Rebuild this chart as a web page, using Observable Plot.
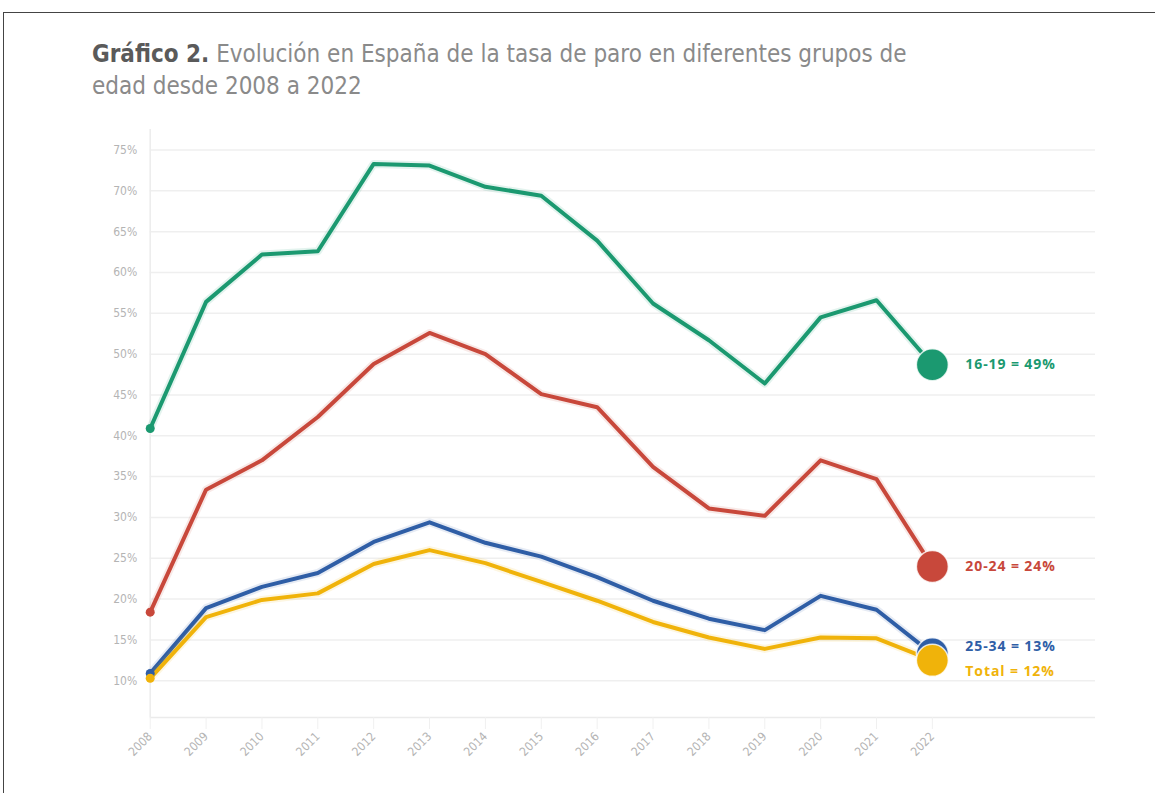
<!DOCTYPE html>
<html>
<head>
<meta charset="utf-8">
<script src="https://cdn.jsdelivr.net/npm/d3@7"></script>
<script src="https://cdn.jsdelivr.net/npm/@observablehq/plot@0.6"></script>
<style>
  html, body { margin: 0; padding: 0; background: #fff; }
  body { width: 1155px; height: 793px; position: relative; overflow: hidden; }
  #frame { position: absolute; left: 3px; top: 12px; width: 1160px; height: 800px; border-top: 1.5px solid #444; border-left: 1.5px solid #444; }
  #title { position: absolute; left: 92px; top: 38px; font-family: "Liberation Sans Narrow", "DejaVu Sans Condensed", "Roboto", sans-serif; font-size: 24px; line-height: 32px; color: #8a8a8a; width: 900px; font-weight: 300; }
  #title b { color: #5a5a5a; font-weight: 700; }
  #chart { position: absolute; left: 0; top: 110px; }
</style>
</head>
<body>
<div id="frame"></div>
<div id="title"><b>Gráfico 2.</b> Evolución en España de la tasa de paro en diferentes grupos de<br>edad desde 2008 a 2022</div>
<div id="chart"></div>
<script>
const years = [2008,2009,2010,2011,2012,2013,2014,2015,2016,2017,2018,2019,2020,2021,2022];
const g1619 = [40.9,56.4,62.2,62.6,73.3,73.1,70.5,69.4,63.9,56.2,51.7,46.4,54.5,56.6,48.7];
const g2024 = [18.4,33.4,37.0,42.3,48.8,52.6,50.0,45.1,43.5,36.2,31.1,30.2,37.0,34.7,24.0];
const g2534 = [10.9,18.9,21.5,23.2,27.0,29.4,26.9,25.2,22.7,19.8,17.6,16.2,20.4,18.7,13.3];
const total = [10.3,17.8,19.9,20.7,24.3,26.0,24.4,22.1,19.8,17.2,15.3,13.9,15.3,15.2,12.5];
const seriesNames = ["16-19", "20-24", "25-34", "Total"];
const seriesLabels = ["16-19 = 49%", "20-24 = 24%", "25-34 = 13%", "Total = 12%"];
const seriesColors = ["#1b9970", "#c8483b", "#2f5ea6", "#f0b30a"];
const labelDy = [0, 0, -7, 11];
const yTicks = [10,15,20,25,30,35,40,45,50,55,60,65,70,75];

const values = [g1619, g2024, g2534, total];
const rows = [];
values.forEach((arr, i) => arr.forEach((v, j) => rows.push({serie: seriesNames[i], year: years[j], value: v, color: seriesColors[i]})));
const firsts = seriesNames.map((s, i) => ({serie: s, year: years[0], value: values[i][0], color: seriesColors[i]}));
const lasts = seriesNames.map((s, i) => ({serie: s, year: years[years.length-1], value: values[i][years.length-1], color: seriesColors[i], label: seriesLabels[i], dy: labelDy[i]}));

const font = '"Liberation Sans Narrow", "DejaVu Sans Condensed", Roboto, sans-serif';

const marks = [
  Plot.gridY(yTicks, {stroke: "#efefef", strokeOpacity: 1, strokeWidth: 1.5}),
  Plot.ruleY([5.5], {stroke: "#ebebeb", strokeWidth: 1.5}),
  Plot.ruleX([2008], {stroke: "#ececec", strokeWidth: 1.5}),
  Plot.axisY({ticks: yTicks, tickSize: 0, tickPadding: 13, tickFormat: d => d + "%", fill: "#b4b4b4", fontSize: 12, label: null}),
  Plot.axisX({ticks: years, tickSize: 12, stroke: "#f0f0f0", tickFormat: d => String(d), tickRotate: -45, fill: "#b4b4b4", fontSize: 12, label: null, tickPadding: 5})
];
seriesNames.forEach((s, i) => {
  const d = rows.filter(r => r.serie === s);
  marks.push(Plot.line(d, {x: "year", y: "value", stroke: seriesColors[i], strokeWidth: 8, strokeOpacity: 0.12}));
  marks.push(Plot.line(d, {x: "year", y: "value", stroke: seriesColors[i], strokeWidth: 4}));
});
marks.push(Plot.dot(firsts, {x: "year", y: "value", fill: "color", r: 4.5}));
marks.push(Plot.dot(lasts, {x: "year", y: "value", fill: "color", r: 16, stroke: "#fff", strokeWidth: 1.5, strokeOpacity: 0.8}));
seriesNames.forEach((s, i) => {
  marks.push(Plot.text([lasts[i]], {x: "year", y: "value", text: "label", fill: seriesColors[i], dx: 33, dy: labelDy[i], textAnchor: "start", fontWeight: "bold", fontSize: 14, fontFamily: "'Open Sans', sans-serif"}));
});

const chart = Plot.plot({
  width: 1155,
  height: 683,
  marginLeft: 149.7,
  marginRight: 60,
  marginTop: 19.1,
  marginBottom: 76,
  x: {type: "linear", domain: [2008, 2024.92]},
  y: {domain: [5.5, 77.5]},
  color: {type: "identity"},
  style: {fontFamily: font, background: "transparent", overflow: "visible"},
  marks
});
d3.select(chart).selectAll("text").filter(function() { return this.textContent.includes("="); }).style("letter-spacing", "0.9px");
document.getElementById("chart").appendChild(chart);
</script>
</body>
</html>
